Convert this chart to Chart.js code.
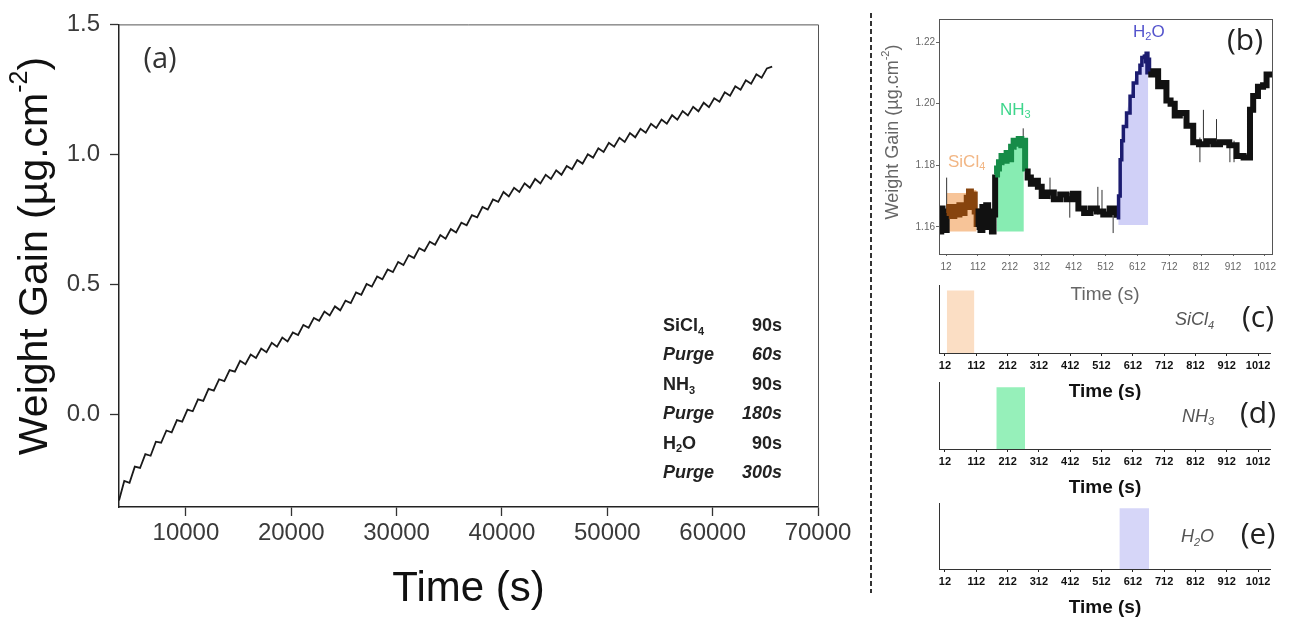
<!DOCTYPE html>
<html>
<head>
<meta charset="utf-8">
<script src="https://cdn.jsdelivr.net/npm/chart.js@4.4.1/dist/chart.umd.min.js"></script>
<style>
  body { margin: 0; background: #fff; width: 1294px; height: 623px; overflow: hidden; position: relative; }
  canvas { position: absolute; }
  #sep { position: absolute; left: 870px; top: 13px; width: 1.5px; height: 580px;
         background: repeating-linear-gradient(to bottom, #333 0 5px, transparent 5px 8px); }
</style>
</head>
<body>
<canvas id="cA" width="860" height="623" style="left:0;top:0"></canvas>
<div id="sep"></div>
<canvas id="cB" width="434" height="310" style="left:860px;top:0"></canvas>
<canvas id="cC" width="434" height="130" style="left:860px;top:270px"></canvas>
<canvas id="cD" width="434" height="130" style="left:860px;top:370px"></canvas>
<canvas id="cE" width="434" height="133" style="left:860px;top:490px"></canvas>
<script>
// ---- (a) weight gain over the whole run ----
const timeA = [3650,4150,4650,5150,5650,6150,6650,7150,7650,8150,8650,9150,9650,10150,10650,11150,11650,12150,12650,13150,
  13650,14150,14650,15150,15650,16150,16650,17150,17650,18150,18650,19150,19650,20150,20650,21150,21650,22150,22650,23150,
  23650,24150,24650,25150,25650,26150,26650,27150,27650,28150,28650,29150,29650,30150,30650,31150,31650,32150,32650,33150,
  33650,34150,34650,35150,35650,36150,36650,37150,37650,38150,38650,39150,39650,40150,40650,41150,41650,42150,42650,43150,
  43650,44150,44650,45150,45650,46150,46650,47150,47650,48150,48650,49150,49650,50150,50650,51150,51650,52150,52650,53150,
  53650,54150,54650,55150,55650,56150,56650,57150,57650,58150,58650,59150,59650,60150,60650,61150,61650,62150,62650,63150,
  63650,64150,64650,65150,65650];
const gainA = [-0.33,-0.255,-0.262,-0.20,-0.205,-0.152,-0.158,-0.104,-0.108,-0.061,-0.068,-0.021,-0.027,0.019,0.013,0.059,0.053,0.099,0.092,0.136,
  0.129,0.171,0.165,0.207,0.194,0.231,0.218,0.254,0.240,0.276,0.261,0.296,0.281,0.316,0.306,0.345,0.334,0.372,0.361,0.396,
  0.381,0.416,0.401,0.438,0.429,0.470,0.461,0.502,0.492,0.531,0.520,0.558,0.548,0.587,0.575,0.613,0.602,0.640,0.629,0.665,
  0.653,0.690,0.676,0.713,0.700,0.738,0.728,0.767,0.758,0.798,0.788,0.827,0.818,0.856,0.839,0.872,0.856,0.889,0.872,0.906,
  0.889,0.922,0.906,0.939,0.922,0.956,0.943,0.979,0.965,1.001,0.988,1.024,1.010,1.045,1.030,1.064,1.048,1.082,1.066,1.099,
  1.084,1.118,1.102,1.134,1.118,1.151,1.134,1.167,1.150,1.183,1.166,1.199,1.182,1.216,1.203,1.239,1.226,1.262,1.249,1.285,
  1.272,1.308,1.295,1.331,1.338];
const xTicksA = [10000, 20000, 30000, 40000, 50000, 60000, 70000];
const yTicksA = [0, 0.5, 1.0, 1.5];

// recipe of one ALD cycle (legend box in (a))
const recipeNames = [[['SiCl','n'],['4','sub']], [['Purge','n']], [['NH','n'],['3','sub']],
                     [['Purge','n']], [['H','n'],['2','sub'],['O','n']], [['Purge','n']]];
const recipeTimes = ['90s', '60s', '90s', '180s', '90s', '300s'];
const recipePurge = [false, true, false, true, false, true];

// ---- (b) one cycle, zoomed ----
const traceB = [
  [-10,1.1625],[-6,1.1585],[-3,1.1660],[1,1.1600],[5,1.1650],[9,1.1590],
  [14,1.1645],[22,1.1665],[30,1.1635],[38,1.1665],[46,1.1640],[54,1.1670],[62,1.1645],[70,1.1665],[77,1.1695],[84,1.1715],[90,1.1665],[96,1.1705],[102,1.1650],
  [108,1.1600],[114,1.1650],[120,1.1590],[126,1.1665],[132,1.1610],[138,1.1670],[144,1.1600],[150,1.1650],[156,1.1585],[161,1.1640],
  [166,1.1770],[172,1.1790],[178,1.1810],[186,1.1830],[194,1.1815],[202,1.1840],[210,1.1820],[216,1.1860],[224,1.1880],[232,1.1870],[240,1.1885],[248,1.1865],[254,1.1880],
  [260,1.1780],[268,1.1760],[278,1.1740],[290,1.1750],[300,1.1730],[312,1.1700],[330,1.1712],[350,1.1690],[370,1.1705],[390,1.1690],[410,1.1708],
  [427,1.1660],[445,1.1645],[465,1.1660],[485,1.1650],[505,1.1640],[525,1.1660],[540,1.1648],
  [547,1.1630],[553,1.1700],[558,1.1818],[563,1.1880],[568,1.1926],[578,1.1970],[589,1.2024],[599,1.2067],[610,1.2100],[620,1.2125],[626,1.2150],[634,1.2160],[641,1.2140],
  [646,1.2095],[662,1.2105],[677,1.2057],[690,1.2067],[703,1.2010],[716,1.2000],[729,1.1962],[745,1.1970],[766,1.1928],[787,1.1875],[805,1.1868],
  [830,1.1878],[850,1.1868],[871,1.1875],[900,1.1865],[923,1.1830],[945,1.1825],[965,1.1980],[975,1.2025],[990,1.2055],[1006,1.2060],[1017,1.2095],[1035,1.2095]
];
const spikesB = [[14,1.163,1.176],[254,1.186,1.192],[338,1.169,1.176],[400,1.163,1.171],[488,1.164,1.173],[501,1.164,1.172],
                 [536,1.158,1.165],[808,1.181,1.189],[819,1.187,1.198],[860,1.187,1.195],[902,1.181,1.188],[915,1.181,1.188]];
const shadeSiCl4 = [[14,1.171],[77,1.172],[108,1.172]];
const shadeNH3 = [[171,1.176],[176,1.180],[190,1.183],[205,1.185],[228,1.1885],[256,1.1885]];
const shadeH2O = [[552,1.163],[557,1.1818],[568,1.1926],[578,1.197],[589,1.2024],[599,1.2067],[610,1.210],[620,1.212],[628,1.2159],[646,1.2159]];
const shadeBase = [1.1585, 1.1585, 1.1606];
const xTicksB = [12, 112, 212, 312, 412, 512, 612, 712, 812, 912, 1012];
const yTicksB = [1.16, 1.18, 1.20, 1.22];

// ---- (c)(d)(e) precursor pulses ----
const pulseSiCl4 = [18, 106];
const pulseNH3 = [176, 268];
const pulseH2O = [569, 664];
const pulseLevel = 0.92;

Chart.defaults.font.family = "'Liberation Sans', Arial, sans-serif";
Chart.defaults.animation = false;

const SANS = "'Liberation Sans', Arial, sans-serif";
const OPEN = "'Open Sans', 'Liberation Sans', sans-serif";

// draws text with sub/superscripts
function richText(ctx, parts, x, y, size, style, align, family) {
  const fam = family || SANS;
  const fontFor = k => `${style} ${k === 'n' ? size : Math.round(size * 0.62)}px ${fam}`;
  let w = 0;
  parts.forEach(([t, k]) => { ctx.font = fontFor(k); w += ctx.measureText(t).width; });
  let cx = align === 'right' ? x - w : align === 'center' ? x - w / 2 : x;
  ctx.textAlign = 'left';
  ctx.textBaseline = 'middle';
  parts.forEach(([t, k]) => {
    ctx.font = fontFor(k);
    const dy = k === 'sub' ? size * 0.32 : k === 'sup' ? -size * 0.38 : 0;
    ctx.fillText(t, cx, y + dy);
    cx += ctx.measureText(t).width;
  });
}

const setTicks = arr => scale => { scale.ticks = arr.map(v => ({ value: v })); };
const pts = arr => arr.map(([x, y]) => ({ x, y }));

// ---------- chart (a) ----------
const decorA = {
  id: 'decorA',
  afterDraw(chart) {
    const { ctx, chartArea: a } = chart;
    ctx.save();
    ctx.strokeStyle = '#555';
    ctx.lineWidth = 1;
    ctx.beginPath();
    ctx.moveTo(a.left, a.top + 0.5);
    ctx.lineTo(a.right + 0.5, a.top + 0.5);
    ctx.lineTo(a.right + 0.5, a.bottom);
    ctx.stroke();

    ctx.fillStyle = '#111';
    richText(ctx, [['Time (s)', 'n']], (a.left + a.right) / 2, 589, 42, '', 'center');
    ctx.save();
    ctx.translate(36, 256);
    ctx.rotate(-Math.PI / 2);
    richText(ctx, [['Weight Gain (µg.cm', 'n'], ['-2', 'sup'], [')', 'n']], 0, 0, 41, '', 'center');
    ctx.restore();

    ctx.fillStyle = '#333';
    richText(ctx, [['(a)', 'n']], 160, 60, 29, '', 'center', OPEN);

    ctx.fillStyle = '#222';
    recipeNames.forEach((name, i) => {
      const y = 326 + i * 29.4;
      const st = recipePurge[i] ? 'italic bold' : 'bold';
      richText(ctx, name, 663, y, 18, st, 'left');
      richText(ctx, [[recipeTimes[i], 'n']], 782, y, 18, st, 'right');
    });
    ctx.restore();
  }
};

new Chart(document.getElementById('cA'), {
  type: 'line',
  data: {
    datasets: [{
      data: timeA.map((t, i) => ({ x: t, y: gainA[i] })),
      borderColor: '#1a1a1a',
      borderWidth: 1.8,
      pointRadius: 0,
      tension: 0
    }]
  },
  options: {
    responsive: false,
    layout: { padding: { top: 21, right: 42, left: 0, bottom: 0 } },
    plugins: { legend: { display: false }, tooltip: { enabled: false } },
    scales: {
      x: {
        type: 'linear', min: 3650, max: 70000,
        afterBuildTicks: setTicks(xTicksA),
        afterFit: s => { s.height = 116; },
        grid: { drawOnChartArea: false, drawTicks: true, tickLength: 9, tickColor: '#333', tickWidth: 1.3 },
        border: { display: true, color: '#222', width: 1.5 },
        ticks: { padding: 3, color: '#3a3a3a', font: { size: 24 }, maxRotation: 0, callback: v => String(v) }
      },
      y: {
        type: 'linear', min: -0.355, max: 1.5,
        afterBuildTicks: setTicks(yTicksA),
        afterFit: s => { s.width = 119; },
        grid: { drawOnChartArea: false, drawTicks: true, tickLength: 9, tickColor: '#333', tickWidth: 1.3 },
        border: { display: true, color: '#222', width: 1.5 },
        ticks: { padding: 10, color: '#3a3a3a', font: { size: 24 }, callback: v => v.toFixed(1) }
      }
    }
  },
  plugins: [decorA]
});

// ---------- chart (b) ----------
const BROWN = 'rgb(135,68,14)', DKGREEN = 'rgb(22,140,72)', NAVY = 'rgb(28,28,112)';
const traceColor = t => (t >= 14 && t < 108) ? BROWN : (t >= 165 && t < 259) ? DKGREEN : (t >= 547 && t < 646) ? NAVY : '#111';

const decorB = {
  id: 'decorB',
  afterDraw(chart) {
    const { ctx, chartArea: a } = chart;
    ctx.save();
    ctx.strokeStyle = '#555';
    ctx.lineWidth = 1;
    ctx.strokeRect(a.left + 0.5, a.top + 0.5, a.right - a.left, a.bottom - a.top);

    ctx.fillStyle = '#666';
    richText(ctx, [['Time (s)', 'n']], 245, 295, 19, '', 'center');
    ctx.save();
    ctx.translate(33, 132);
    ctx.rotate(-Math.PI / 2);
    richText(ctx, [['Weight Gain (µg.cm', 'n'], ['-2', 'sup'], [')', 'n']], 0, 0, 18, '', 'center');
    ctx.restore();

    ctx.fillStyle = 'rgb(242,182,132)';
    richText(ctx, [['SiCl', 'n'], ['4', 'sub']], 88, 162, 17, '', 'left');
    ctx.fillStyle = 'rgb(62,214,140)';
    richText(ctx, [['NH', 'n'], ['3', 'sub']], 140, 110, 17, '', 'left');
    ctx.fillStyle = 'rgb(84,84,205)';
    richText(ctx, [['H', 'n'], ['2', 'sub'], ['O', 'n']], 273, 32, 17, '', 'left');
    ctx.fillStyle = '#222';
    richText(ctx, [['(b)', 'n']], 385, 41, 30, '', 'center', OPEN);
    ctx.restore();
  }
};

new Chart(document.getElementById('cB'), {
  type: 'line',
  data: {
    datasets: [
      {
        data: pts(traceB), stepped: true, pointRadius: 0, borderWidth: 6, borderColor: '#111',
        borderCapStyle: 'butt', borderJoinStyle: 'miter', order: 0,
        segment: {
          borderColor: c => traceColor(c.p0.parsed.x),
          borderWidth: c => (c.p0.parsed.x >= 547 && c.p0.parsed.x < 634) ? 3.5 : 6
        }
      },
      {
        data: spikesB.flatMap(([t, lo, hi]) => [{ x: t, y: lo }, { x: t, y: hi }, { x: t, y: null }]),
        spanGaps: false, pointRadius: 0, borderWidth: 1, borderColor: '#333', order: 1
      },
      { data: pts(shadeSiCl4), stepped: true, pointRadius: 0, borderWidth: 0,
        backgroundColor: 'rgb(247,196,152)', fill: { value: shadeBase[0] }, order: 3 },
      { data: pts(shadeNH3), stepped: true, pointRadius: 0, borderWidth: 0,
        backgroundColor: 'rgb(135,236,178)', fill: { value: shadeBase[1] }, order: 3 },
      { data: pts(shadeH2O), pointRadius: 0, borderWidth: 0,
        backgroundColor: 'rgb(208,208,247)', fill: { value: shadeBase[2] }, order: 3 }
    ]
  },
  options: {
    responsive: false,
    layout: { padding: { top: 19, right: 22, left: 0, bottom: 0 } },
    plugins: { legend: { display: false }, tooltip: { enabled: false } },
    scales: {
      x: {
        type: 'linear', min: -10, max: 1034,
        afterBuildTicks: setTicks(xTicksB),
        afterFit: s => { s.height = 56; },
        grid: { drawOnChartArea: false, drawTicks: true, tickLength: 2, tickColor: '#666' },
        border: { display: false },
        ticks: { padding: 5, color: '#666', font: { size: 10 }, maxRotation: 0, autoSkip: false, callback: v => String(v) }
      },
      y: {
        type: 'linear', min: 1.1512, max: 1.2275,
        afterBuildTicks: setTicks(yTicksB),
        afterFit: s => { s.width = 79; },
        grid: { drawOnChartArea: false, drawTicks: true, tickLength: 3, tickColor: '#666' },
        border: { display: false },
        ticks: { padding: 1, color: '#666', font: { size: 10 }, callback: v => v.toFixed(2) }
      }
    }
  },
  plugins: [decorB]
});

// ---------- charts (c)(d)(e) ----------
function pulseChart(id, pulse, color, formula, letter, padTop, xHeight) {
  const decor = {
    id: 'decor' + letter,
    afterDraw(chart) {
      const { ctx, chartArea: a } = chart;
      const mid = (a.top + a.bottom) / 2 + 1;
      ctx.save();
      ctx.fillStyle = '#111';
      richText(ctx, [['Time (s)', 'n']], 245, a.bottom + 39, 19, 'bold', 'center');
      ctx.fillStyle = '#555';
      richText(ctx, formula, 354, mid, 18, 'italic', 'right');
      ctx.fillStyle = '#222';
      richText(ctx, [['(' + letter + ')', 'n']], 398, mid - 2, 30, '', 'center', OPEN);
      ctx.restore();
    }
  };
  return new Chart(document.getElementById(id), {
    type: 'line',
    data: {
      datasets: [{
        data: [{ x: pulse[0], y: pulseLevel }, { x: pulse[1], y: pulseLevel }],
        pointRadius: 0, borderWidth: 0, backgroundColor: color, fill: 'origin'
      }]
    },
    options: {
      responsive: false,
      layout: { padding: { top: padTop, right: 24, left: 0, bottom: 0 } },
      plugins: { legend: { display: false }, tooltip: { enabled: false } },
      scales: {
        x: {
          type: 'linear', min: -7, max: 1050,
          afterBuildTicks: setTicks(xTicksB),
          afterFit: s => { s.height = xHeight; },
          grid: { drawOnChartArea: false, drawTicks: true, tickLength: 3, tickColor: '#222' },
          border: { display: true, color: '#333', width: 1 },
          ticks: { padding: 3, color: '#111', font: { size: 11, weight: 'bold' }, maxRotation: 0, autoSkip: false, callback: v => String(v) }
        },
        y: {
          type: 'linear', min: 0, max: 1,
          afterFit: s => { s.width = 79; },
          grid: { display: false },
          border: { display: true, color: '#333', width: 1 },
          ticks: { display: false }
        }
      }
    },
    plugins: [decor]
  });
}

pulseChart('cC', pulseSiCl4, 'rgb(251,222,196)', [['SiCl', 'n'], ['4', 'sub']], 'c', 15, 47);
pulseChart('cD', pulseNH3, 'rgb(150,240,186)', [['NH', 'n'], ['3', 'sub']], 'd', 12, 51);
pulseChart('cE', pulseH2O, 'rgb(214,214,248)', [['H', 'n'], ['2', 'sub'], ['O', 'n']], 'e', 13, 54);
</script>
</body>
</html>
